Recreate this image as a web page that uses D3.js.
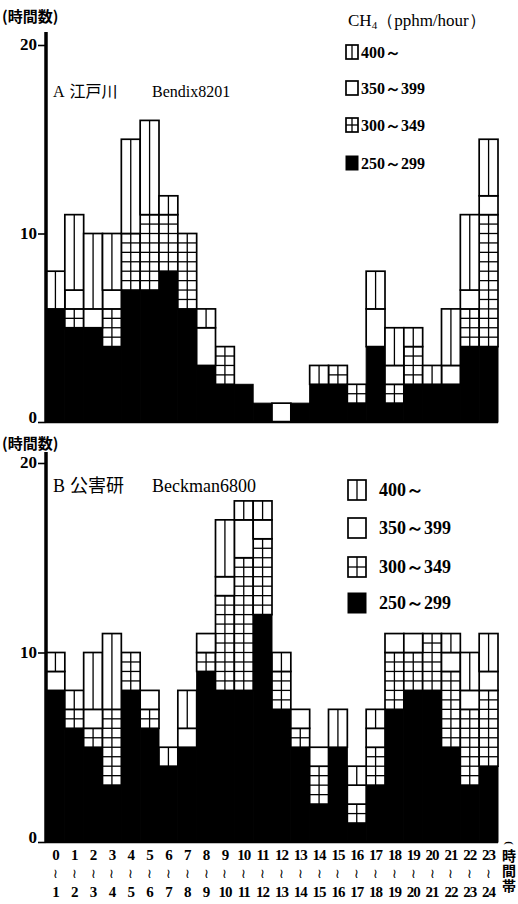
<!DOCTYPE html>
<html>
<head>
<meta charset="UTF-8">
<title>CH4 hours</title>
<style>
  body { margin: 0; background: #fff; }
  svg { display: block; }
  text { fill: #000; }
  .num { font-family: "Liberation Serif", "DejaVu Serif", serif; font-weight: bold; }
  .jp { font-family: "Noto Sans CJK JP", sans-serif; font-weight: bold; }
</style>
</head>
<body>
<svg></svg>
<script src="https://d3js.org/d3.v7.min.js"></script>
<script>
let width = 518, height = 904;

// hour bins 0~1 ... 23~24
let hours = d3.range(24);
let hourFrom = hours.map(h => String(h));
let hourTo = hours.map(h => String(h + 1));

// A 江戸川 Bendix8201 : number of hours in each class
let aBlack = [6,5,5,4,7,7,8,6,3,2,2,1,0,1,2,2,1,4,1,2,2,2,4,4];
let aCross = [0,1,0,2,3,4,3,4,0,2,0,0,0,0,0,1,1,0,1,2,0,0,2,7];
let aBox   = [0,1,1,1,0,0,0,0,2,0,0,0,1,0,0,0,0,2,1,0,0,1,1,1];
let aVline = [2,4,4,3,5,5,1,0,1,0,0,0,0,0,1,0,0,2,2,1,1,3,4,3];

// B 公害研 Beckman6800
let bBlack = [8,6,5,3,8,6,4,5,9,8,8,12,7,5,2,5,1,3,7,8,8,5,3,4];
let bCross = [0,1,1,4,2,1,0,0,1,5,7,4,2,1,2,0,1,2,3,2,3,4,4,4];
let bBox   = [1,0,1,0,0,1,0,1,1,1,2,1,0,1,1,0,1,1,1,1,0,1,1,1];
let bVline = [1,1,3,4,0,0,1,2,0,3,1,1,1,0,0,2,1,1,0,0,0,1,2,2];

let keys = ["black", "cross", "box", "vline"];
let legendKeys = ["vline", "box", "cross", "black"];
let legendLabels = ["400～", "350～399", "300～349", "250～299"];
let yTicks = [0, 10, 20];

let svg = d3.select("svg")
    .attr("width", width)
    .attr("height", height)
    .attr("viewBox", "0 0 " + width + " " + height);

let x = d3.scaleBand()
    .domain(hours)
    .range([46, 498])
    .padding(0);

// draws one segment (or legend box) in the given pattern
function drawSeg(g, x0, yTop, w, h, kind, step) {
  if (kind === "black") {
    g.append("rect")
      .attr("x", x0).attr("y", yTop)
      .attr("width", w).attr("height", h)
      .attr("fill", "#000").attr("stroke", "#000").attr("stroke-width", 1);
    return;
  }
  g.append("rect")
    .attr("x", x0).attr("y", yTop)
    .attr("width", w).attr("height", h)
    .attr("fill", "#fff").attr("stroke", "#000").attr("stroke-width", 1.7);
  if (kind === "vline" || kind === "cross") {
    g.append("line")
      .attr("x1", x0 + w / 2).attr("x2", x0 + w / 2)
      .attr("y1", yTop).attr("y2", yTop + h)
      .attr("stroke", "#000").attr("stroke-width", 1.3);
  }
  if (kind === "cross") {
    for (let yy = yTop + step; yy < yTop + h - 0.5; yy += step) {
      g.append("line")
        .attr("x1", x0).attr("x2", x0 + w)
        .attr("y1", yy).attr("y2", yy)
        .attr("stroke", "#000").attr("stroke-width", 1.3);
    }
  }
}

function drawPanel(p) {
  let y = d3.scaleLinear().domain([0, 20]).range(p.yRange);
  let g = svg.append("g");

  let rows = hours.map((h, i) => ({
    hour: h, black: p.black[i], cross: p.cross[i], box: p.box[i], vline: p.vline[i]
  }));
  let series = d3.stack().keys(keys)(rows);
  let half = (y(0) - y(1)) / 2;

  series.forEach(s => {
    s.forEach(d => {
      if (d[1] > d[0]) {
        drawSeg(g, x(d.data.hour), y(d[1]), x.bandwidth(), y(d[0]) - y(d[1]), s.key, half);
      }
    });
  });

  // baseline
  g.append("line")
    .attr("x1", 46).attr("x2", 498)
    .attr("y1", y(0)).attr("y2", y(0))
    .attr("stroke", "#000").attr("stroke-width", 2.5);

  // y axis
  let axis = g.append("g")
    .attr("transform", "translate(46,0)")
    .call(d3.axisLeft(y).tickValues(yTicks).tickSize(8).tickPadding(1));
  axis.select(".domain").remove();
  axis.selectAll(".tick line").attr("stroke", "#000").attr("stroke-width", 1.6);
  axis.selectAll(".tick text")
    .attr("class", "num")
    .attr("dy", d => d === 0 ? "0.05em" : "0.28em")
    .style("font-size", "17px")
    .attr("fill", "#000");
  g.append("line")
    .attr("x1", 46).attr("x2", 46)
    .attr("y1", y(20) - p.axisExt).attr("y2", y(0))
    .attr("stroke", "#000").attr("stroke-width", 3.5);

  // unit label
  g.append("text")
    .attr("class", "jp")
    .attr("x", 2).attr("y", p.unitY)
    .style("font-size", "15px")
    .text("(時間数)");

  // panel title
  let t = g.append("text")
    .attr("x", 53).attr("y", p.titleY)
    .style("font-size", p.titleSize + "px");
  t.append("tspan").attr("class", "num").style("font-weight", "normal").text(p.letter);
  t.append("tspan").attr("class", "jp").style("font-weight", "normal").attr("dx", 5).text(p.site);
  t.append("tspan").attr("class", "num").style("font-weight", "normal").attr("x", 152).text(p.inst);

  // legend
  if (p.legendTitleY) {
    let lt = g.append("text")
      .attr("class", "num")
      .style("font-weight", "normal")
      .attr("x", 348).attr("y", p.legendTitleY)
      .style("font-size", "17px");
    lt.append("tspan").text("CH");
    lt.append("tspan").style("font-size", "11px").attr("dy", 3).text("4");
    lt.append("tspan").attr("dy", -3).text("（pphm/hour）");
  }
  legendKeys.forEach((k, i) => {
    let cy = p.legendY[i];
    drawSeg(g, p.legendX, cy - p.symH / 2, p.symW, p.symH, k, p.symH / 2);
    g.append("text")
      .attr("class", "num")
      .attr("x", p.legendTextX).attr("y", cy)
      .attr("dy", "0.35em")
      .style("font-size", p.legendFont + "px")
      .text(legendLabels[i]);
  });
}

drawPanel({
  black: aBlack, cross: aCross, box: aBox, vline: aVline,
  yRange: [422, 45], axisExt: 13,
  unitY: 22, titleY: 97, titleSize: 16,
  letter: "A", site: "江戸川", inst: "Bendix8201",
  legendTitleY: 26, legendX: 346, legendTextX: 361, symW: 12, symH: 14, legendFont: 16,
  legendY: [52, 88, 125, 163]
});

drawPanel({
  black: bBlack, cross: bCross, box: bBox, vline: bVline,
  yRange: [842, 463], axisExt: 11,
  unitY: 449, titleY: 492, titleSize: 18,
  letter: "B", site: "公害研", inst: "Beckman6800",
  legendTitleY: null, legendX: 348, legendTextX: 379, symW: 18, symH: 20, legendFont: 18,
  legendY: [490, 528, 567, 603]
});

// hour labels under panel B
let xl = svg.append("g");
xl.selectAll("text.from")
  .data(hours)
  .enter().append("text")
    .attr("class", "num")
    .attr("x", d => x(d) + x.bandwidth() / 2)
    .attr("y", 860)
    .attr("text-anchor", "middle")
    .style("font-size", "15px")
    .style("letter-spacing", "-1px")
    .text((d, i) => hourFrom[i]);
xl.selectAll("text.sep")
  .data(hours)
  .enter().append("text")
    .attr("x", d => x(d) + x.bandwidth() / 2)
    .attr("y", 878)
    .attr("text-anchor", "middle")
    .style("font-family", "DejaVu Serif, serif")
    .style("font-size", "13px")
    .text("≀");
xl.selectAll("text.to")
  .data(hours)
  .enter().append("text")
    .attr("class", "num")
    .attr("x", d => x(d) + x.bandwidth() / 2)
    .attr("y", 897)
    .attr("text-anchor", "middle")
    .style("font-size", "15px")
    .style("letter-spacing", "-1px")
    .text((d, i) => hourTo[i]);

// (時間帯) written vertically
xl.append("text")
  .attr("class", "num")
  .attr("transform", "translate(509,843) rotate(90)")
  .attr("text-anchor", "middle")
  .attr("dy", "0.3em")
  .style("font-size", "11px")
  .text("(");
xl.append("text")
  .attr("class", "jp")
  .attr("x", 509).attr("y", 849)
  .style("writing-mode", "vertical-rl")
  .style("font-size", "14px")
  .style("letter-spacing", "1px")
  .text("時間帯");
</script>
</body>
</html>
